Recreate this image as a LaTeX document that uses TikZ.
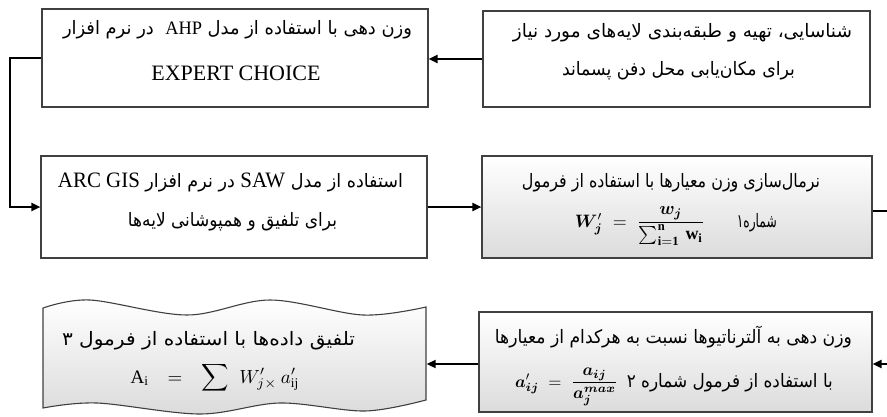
\documentclass[tikz,border=0pt]{standalone}
\usepackage{fontspec}
\usepackage{amsmath}
\usepackage{bm}
\usepackage{graphicx}
\setmainfont{Liberation Serif}
\newfontfamily\fa[Script=Arabic]{DejaVu Sans}
\TeXXeTstate=1
\usetikzlibrary{arrows.meta}
\newcommand\fatxt{\fontsize{18.5}{22}\selectfont\fa}
\newcommand\latbig{\fontsize{22}{24}\selectfont\rmfamily}
\newcommand\latmid{\fontsize{19}{22}\selectfont\rmfamily}
\newcommand\fitw[2]{\resizebox{#1}{\height}{#2}}
\tikzset{
  boxrect/.style={draw=black!75, line width=1.1pt, inner sep=0pt},
  grad/.style={top color=white, middle color=white, bottom color=black!14},
  txt/.style={anchor=base, inner sep=0pt},
  txtr/.style={anchor=base east, inner sep=0pt},
  conn/.style={line width=2pt, black},
  arr/.style={conn, -{Triangle[length=9pt,width=8pt]}},
}
\begin{document}
\begin{tikzpicture}[x=1pt,y=-1pt]
\useasboundingbox (0,0) rectangle (887,416);
% boxes
\node[boxrect, minimum width=386pt, minimum height=98pt] (b1) at (235,58) {};
\node[boxrect, minimum width=387pt, minimum height=96pt] (b2) at (676.5,59) {};
\node[boxrect, minimum width=386pt, minimum height=102pt] (b3) at (234,207) {};
\node[boxrect, grad, minimum width=390pt, minimum height=102pt] (b4) at (677,207) {};
\node[boxrect, grad, minimum width=393pt, minimum height=100pt] (b6) at (675.5,362) {};
\node[inner sep=0pt, minimum width=384pt, minimum height=104pt] (b5) at (234.5,358) {};
\draw[boxrect, grad] (43,408) -- plot[smooth, tension=0.55] coordinates {(43,308) (90,300) (187,315) (270,300) (363,315) (426,307)}
  -- plot[smooth, tension=0.55] coordinates {(426,400) (365,411) (280,403) (200,414) (97,403) (43,408)} -- cycle;
% texts
\node[txt] (t1a) at (237.5,34) {\fitw{349pt}{\fatxt\beginR وزن دهی با استفاده از مدل \beginL{\latmid AHP}\endL{}\ \ در نرم افزار\endR}};
\node[txt] (t1b) at (236,80) {\latbig EXPERT CHOICE};
\node[txt] (t2a) at (682.5,37) {\fitw{339pt}{\fatxt\beginR شناسایی، تهیه و طبقه‌بندی لایه‌های مورد نیاز\endR}};
\node[txt] (t2b) at (678.5,75) {\fitw{233pt}{\fatxt\beginR برای مکان‌یابی محل دفن پسماند\endR}};
\node[txt] (t3a) at (230.5,187) {\fitw{345pt}{\fatxt\beginR استفاده از مدل \beginL{\latbig SAW}\endL{} در نرم افزار \beginL{\latbig ARC GIS}\endL\endR}};
\node[txt] (t3b) at (232.5,226) {\fitw{209pt}{\fatxt\beginR برای تلفیق و همپوشانی لایه‌ها\endR}};
\node[txt] (t4a) at (671,187) {\fitw{298pt}{\fatxt\beginR نرمال‌سازی وزن معیارها با استفاده از فرمول\endR}};
\node[txt] (t4f) at (640,227) {\resizebox{130pt}{!}{$\bm{W}'_{\bm{j}}\;=\;\dfrac{\bm{w_j}}{\sum_{\mathbf{i=1}}^{\mathbf{n}}\,\mathbf{w_i}}$}};
\node[txtr] (t4p) at (777,227) {\fitw{40pt}{\fatxt\beginR شماره۱\endR}};
\node[txt] (t6a) at (673.5,343) {\fitw{357pt}{\fatxt\beginR وزن دهی به آلترناتیوها نسبت به هرکدام از معیارها\endR}};
\node[txt] (t6f) at (566.5,387) {\resizebox{103pt}{!}{$\bm{a}'_{\bm{ij}}\;=\;\dfrac{\bm{a_{ij}}}{\bm{a_j^{max}}}$}};
\node[txtr] (t6p) at (833,387) {\fitw{206pt}{\fatxt\beginR با استفاده از فرمول شماره ۲\endR}};
\node[txt] (t5a) at (208.5,345) {\fitw{293pt}{\fatxt\beginR تلفیق داده‌ها با استفاده از فرمول ۳\endR}};
\node[txt] (t5b) at (215,383) {\scalebox{1.9}{$\mathrm{A_i}\hspace{7pt}=\hspace{7pt}\displaystyle\sum\hspace{4pt} W'_{j\times}\hspace{2pt} a'_{\mathrm{ij}}$}};
% connectors
\coordinate (e1) at (887,211);
\coordinate (e2) at (887,364);
\draw[arr] (b2.west) -- (b2.west -| b1.east);
\draw[arr] (b1.west) -- ++(-31,0) |- (b3.west);
\draw[arr] (b3.east) -- (b4.west);
\draw[conn] (b4.east |- e1) -- (e1);
\draw[arr] (e2) -- (b6.east |- e2);
\draw[arr] (b6.west |- e2) -- (b5.east |- e2);
\end{tikzpicture}
\end{document}
